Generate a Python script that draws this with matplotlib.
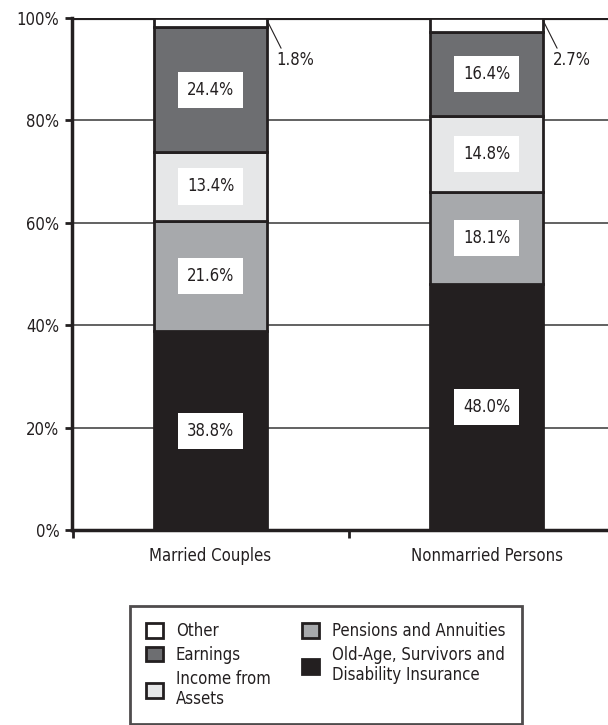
import matplotlib.pyplot as plt
from matplotlib import font_manager
from matplotlib.patches import Patch

names = {f.name for f in font_manager.fontManager.ttflist}
fam = 'Liberation Sans Narrow' if 'Liberation Sans Narrow' in names else 'DejaVu Sans'
plt.rcParams['font.family'] = [fam, 'DejaVu Sans']
if fam == 'DejaVu Sans':
    plt.rcParams['font.stretch'] = 'condensed'

groups = ['Married Couples', 'Nonmarried Persons']
sources = ['Old-Age, Survivors and\nDisability Insurance', 'Pensions and Annuities',
           'Income from\nAssets', 'Earnings', 'Other']
oasdi = [38.8, 48.0]
pensions = [21.6, 18.1]
assets = [13.4, 14.8]
earnings = [24.4, 16.4]
other = [1.8, 2.7]
colors = ['#231f20', '#a7a9ac', '#e6e7e8', '#6d6e71', '#ffffff']
edge = '#231f20'

fig = plt.figure(figsize=(6.08, 7.25), dpi=100)
ax = fig.add_axes([72/608, 1-530/725, 1-72/608, 512/725])

x = [0, 1]
series = [oasdi, pensions, assets, earnings, other]
bottom = [0, 0]
for vals, col, name in zip(series, colors, sources):
    ax.bar(x, vals, width=0.41, bottom=bottom, color=col, edgecolor=edge,
           linewidth=2, zorder=3, label=name)
    if name != 'Other':
        for xi, b, v in zip(x, bottom, vals):
            ax.text(xi, b + v/2, f'{v:.1f}%', ha='center', va='center', fontsize=12,
                    color='#231f20', zorder=5,
                    bbox=dict(boxstyle='square,pad=0.55', fc='white', ec='none'))
    bottom = [b + v for b, v in zip(bottom, vals)]

# callouts for Other
for xi, v in zip(x, other):
    ax.annotate(f'{v:.1f}%', xy=(xi + 0.205, 99.5), xytext=(xi + 0.24, 91.8),
                fontsize=12, color='#231f20', va='center', ha='left',
                arrowprops=dict(arrowstyle='-', color='#231f20', lw=0.8,
                                shrinkA=0, shrinkB=0, relpos=(0.15, 1)))

ax.set_ylim(0, 100)
ax.set_xlim(-0.502, 1.44)
ax.set_yticks([0, 20, 40, 60, 80, 100])
ax.set_yticklabels([f'{t}%' for t in [0, 20, 40, 60, 80, 100]], fontsize=12, color='#231f20')
ax.set_xticks(x)
ax.set_xticklabels(groups, fontsize=12, color='#231f20')
ax.tick_params(axis='x', length=0, pad=12)
ax.set_xticks([-0.5, 0.5], minor=True)
ax.tick_params(axis='x', which='minor', length=6, width=2, color=edge, direction='out')
ax.tick_params(axis='y', length=5, width=2, color=edge, pad=4)
for t in [20, 40, 60, 80]:
    ax.axhline(t, color='#555555', lw=1.3, zorder=1)
ax.axhline(100, color=edge, lw=3, zorder=2)
for s in ['left', 'bottom']:
    ax.spines[s].set_linewidth(2.5)
    ax.spines[s].set_color(edge)
ax.spines['right'].set_visible(False)
ax.spines['top'].set_visible(False)

order = ['Other', 'Earnings', 'Income from\nAssets', 'Pensions and Annuities',
         'Old-Age, Survivors and\nDisability Insurance']
leg_handles = [Patch(facecolor=colors[sources.index(n)], edgecolor=edge, linewidth=2) for n in order]
leg = fig.legend(leg_handles, order, ncol=2, loc='upper left',
                 bbox_to_anchor=(130/608, 1-606/725), borderaxespad=0, fontsize=12,
                 frameon=True, fancybox=False, handlelength=1.0, handleheight=1.0,
                 handletextpad=0.8, columnspacing=1.9, labelspacing=0.35, borderpad=0.95)
leg.get_frame().set_edgecolor(edge)
leg.get_frame().set_linewidth(2)
for t in leg.get_texts():
    t.set_color('#231f20')

fig.savefig('out.png', dpi=100)
